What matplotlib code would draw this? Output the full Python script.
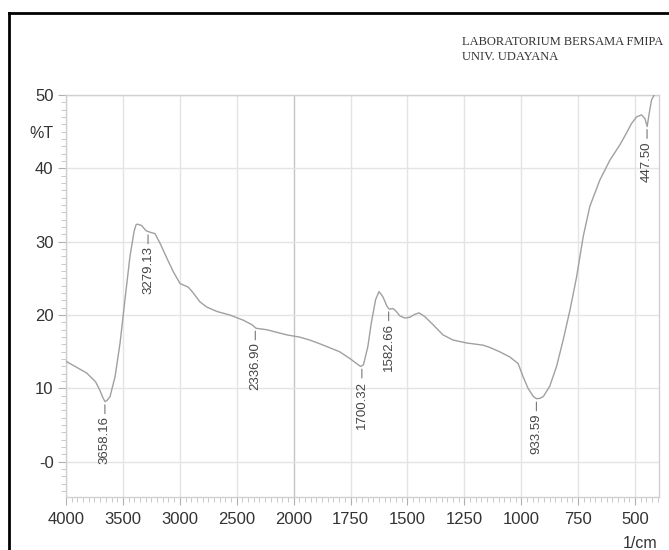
import numpy as np
import matplotlib
matplotlib.use("Agg")
import matplotlib.pyplot as plt
from matplotlib.ticker import FixedLocator, FixedFormatter
from matplotlib.lines import Line2D

# ---- data ----
wavenumber = [4000, 3818, 3740, 3701, 3678, 3657, 3637, 3613, 3569, 3525, 3482, 3438, 3402,
              3385, 3373, 3335, 3297, 3262, 3218, 3174, 3115, 3057, 2998, 2954, 2925, 2881,
              2823, 2764, 2676, 2559, 2442, 2368, 2330, 2236, 2060, 1974, 1930,
              1886, 1798, 1754, 1724, 1706, 1694, 1688, 1674, 1659, 1640, 1625, 1608,
              1590, 1580, 1564, 1549, 1534, 1512, 1490, 1468, 1449, 1424, 1388,
              1344, 1300, 1241, 1168, 1139, 1095, 1051, 1014, 992, 970, 947, 933, 918,
              903, 875, 845, 816, 786, 757, 728, 699, 655, 611, 567, 538, 516,
              494, 472, 457, 447, 438, 428, 413, 405]
transmittance = [13.7, 12.1, 10.9, 9.7, 8.8, 8.2, 8.4, 8.9, 11.6, 16.2, 22.1, 28.0, 31.4,
                 32.3, 32.4, 32.2, 31.5, 31.3, 31.1, 29.8, 27.8, 25.9, 24.3, 24.0, 23.8, 23.0,
                 21.8, 21.1, 20.5, 20.0, 19.3, 18.7, 18.2, 18.0, 17.3, 17.0, 16.6,
                 16.1, 15.0, 14.1, 13.4, 13.0, 13.2, 13.9, 15.7, 18.9, 22.1, 23.2, 22.5,
                 21.2, 20.8, 20.9, 20.5, 19.9, 19.6, 19.7, 20.1, 20.3, 19.8, 18.7,
                 17.3, 16.6, 16.2, 15.9, 15.6, 15.0, 14.3, 13.4, 11.6, 10.0, 8.9, 8.6, 8.65,
                 8.9, 10.3, 13.0, 16.6, 20.7, 25.2, 30.7, 34.8, 38.4, 41.1, 43.2, 44.8,
                 46.1, 47.0, 47.3, 46.8, 45.7, 47.5, 49.3, 50.2, 51.5]

peak_positions = [3658.16, 3279.13, 2336.90, 1700.32, 1582.66, 933.59, 447.50]
peak_labels = ["3658.16", "3279.13", "2336.90", "1700.32", "1582.66", "933.59", "447.50"]

x_ticks = [4000, 3500, 3000, 2500, 2000, 1750, 1500, 1250, 1000, 750, 500]
x_tick_labels = ["4000", "3500", "3000", "2500", "2000", "1750", "1500", "1250", "1000", "750", "500"]
y_ticks = [0, 10, 20, 30, 40, 50]
y_tick_labels = ["-0", "10", "20", "30", "40", "50"]

# ---- piecewise wavenumber scale (500/div above 2000, 250/div below) ----
def fwd(x):
    x = np.asarray(x, dtype=float)
    return np.where(x > 2000, 2000 + (x - 2000) / 2.0, x)

def inv(u):
    u = np.asarray(u, dtype=float)
    return np.where(u > 2000, 2000 + 2.0 * (u - 2000), u)

plt.rcParams['font.family'] = ['Liberation Sans', 'DejaVu Sans']

W, H = 669, 550
fig = plt.figure(figsize=(W / 100, H / 100), dpi=100)
ax = fig.add_axes([66 / W, 1 - 497 / H, (659 - 66) / W, (497 - 95) / H])
ax.set_xscale('function', functions=(fwd, inv))
ax.set_xlim(4000, 395)
ax.set_ylim(-4.8, 50)

grid_c = '#e4e4e4'
for xt in x_ticks:
    ax.axvline(xt, color='#c4c4c4' if xt == 2000 else grid_c, lw=1.0, zorder=0)
for yt in y_ticks:
    ax.axhline(yt, color=grid_c, lw=1.0, zorder=0)

ax.plot(wavenumber, transmittance, color='#a0a0a0', lw=1.0, zorder=3,
        solid_joinstyle='round')

# peak annotations
for p, lab in zip(peak_positions, peak_labels):
    yv = np.interp(p, wavenumber[::-1], transmittance[::-1])
    ax.annotate(lab, xy=(p, yv), xytext=(0, -15), textcoords='offset pixels',
                rotation=90, ha='center', va='top', fontsize=9.5, color='#444444',
                arrowprops=dict(arrowstyle='-', color='#777777', lw=0.8,
                                shrinkA=0, shrinkB=2.5), zorder=4)

ax.xaxis.set_major_locator(FixedLocator(x_ticks))
ax.xaxis.set_major_formatter(FixedFormatter(x_tick_labels))
minor_x = list(range(4000, 2000, -50)) + list(range(2000, 399, -25))
ax.xaxis.set_minor_locator(FixedLocator(minor_x))
ax.yaxis.set_major_locator(FixedLocator(y_ticks))
ax.yaxis.set_major_formatter(FixedFormatter(y_tick_labels))
ax.yaxis.set_minor_locator(FixedLocator(list(range(-4, 51))))

ax.tick_params(axis='both', which='major', colors='#b0b0b0', length=6, width=0.8,
               labelcolor='#333333', labelsize=12)
ax.tick_params(axis='both', which='minor', colors='#c0c0c0', length=3.5, width=0.6)
ax.tick_params(axis='x', which='major', pad=5)
ax.tick_params(axis='y', which='major', pad=3)
for s in ax.spines.values():
    s.set_color('#d0d0d0')
    s.set_linewidth(1.0)

fig.text(53 / W, 1 - 133 / H, '%T', ha='right', va='center', fontsize=11.5, color='#333333')
fig.text(657 / W, 1 - 543 / H, '1/cm', ha='right', va='center', fontsize=11.5, color='#333333')

fig.text(462 / W, 1 - 42 / H, 'LABORATORIUM BERSAMA FMIPA', ha='left', va='center',
         fontsize=9, color='#333333', family='Liberation Serif')
fig.text(462 / W, 1 - 57 / H, 'UNIV. UDAYANA', ha='left', va='center',
         fontsize=9, color='#333333', family='Liberation Serif')

# black outer frame (left and top edges visible)
fig.add_artist(Line2D([9 / W, 9 / W], [0, 1 - 13 / H], transform=fig.transFigure,
                      color='black', lw=2.0))
fig.add_artist(Line2D([9 / W, 1], [1 - 13 / H, 1 - 13 / H], transform=fig.transFigure,
                      color='black', lw=2.0))

fig.savefig('out.png', dpi=100)
